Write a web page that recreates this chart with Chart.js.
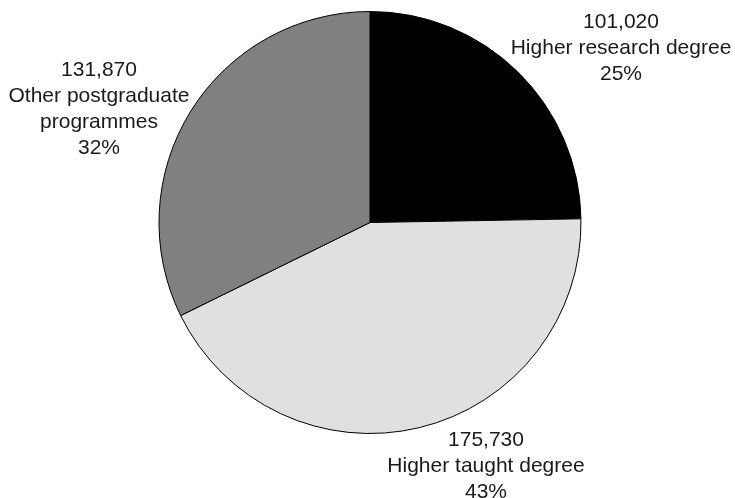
<!DOCTYPE html>
<html>
<head>
<meta charset="utf-8">
<script src="https://cdn.jsdelivr.net/npm/chart.js@4/dist/chart.umd.min.js"></script>
<style>
  html, body { margin: 0; padding: 0; background: #fff; }
  #wrap { width: 735px; height: 498px; }
</style>
</head>
<body>
<div id="wrap"><canvas id="chart" width="735" height="498"></canvas></div>
<script>
// data
var categories = ["Higher research degree", "Higher taught degree", "Other postgraduate programmes"];
var labelLines = [["Higher research degree"], ["Higher taught degree"], ["Other postgraduate", "programmes"]];
var students = [101020, 175730, 131870];
var percents = [25, 43, 32];
var sliceColors = ["#000000", "#e0e0e0", "#808080"];

// where each label sits: offset from the pie centre, in pixels
var labelOffsets = [[251, -174], [116, 244], [-271, -113]];

//draw the number / name / percent text next to each slice
var sliceLabels = {
  id: "sliceLabels",
  afterDraw: function (chart) {
    var ctx = chart.ctx;
    var arcs = chart.getDatasetMeta(0).data;
    ctx.save();
    ctx.font = "21px 'Liberation Sans', Arial, sans-serif";
    ctx.fillStyle = "#1a1a1a";
    ctx.textAlign = "center";
    ctx.textBaseline = "middle";
    arcs.forEach(function (arc, i) {
      var lines = [students[i].toLocaleString("en-GB")]
        .concat(labelLines[i])
        .concat([percents[i] + "%"]);
      var cx = arc.x + labelOffsets[i][0];
      var cy = arc.y + labelOffsets[i][1];
      var top = cy - (lines.length - 1) * 26 / 2;
      lines.forEach(function (t, j) {
        ctx.fillText(t, cx, top + j * 26);
      });
    });
    ctx.restore();
  }
};

var myChart = new Chart(document.getElementById("chart"), {
  type: "pie",
  data: {
    labels: categories,
    datasets: [
      {
        data: students,
        backgroundColor: sliceColors,
        borderColor: "#000000",
        borderWidth: 1,
      },
    ],
  },
  options: {
    responsive: false,
    animation: false,
    layout: { padding: { top: 11, bottom: 64, left: 5, right: 0 } },
    plugins: {
      legend: { display: false },
      tooltip: { enabled: false },
    },
    events: [],
  },
  plugins: [sliceLabels],
});
</script>
</body>
</html>
